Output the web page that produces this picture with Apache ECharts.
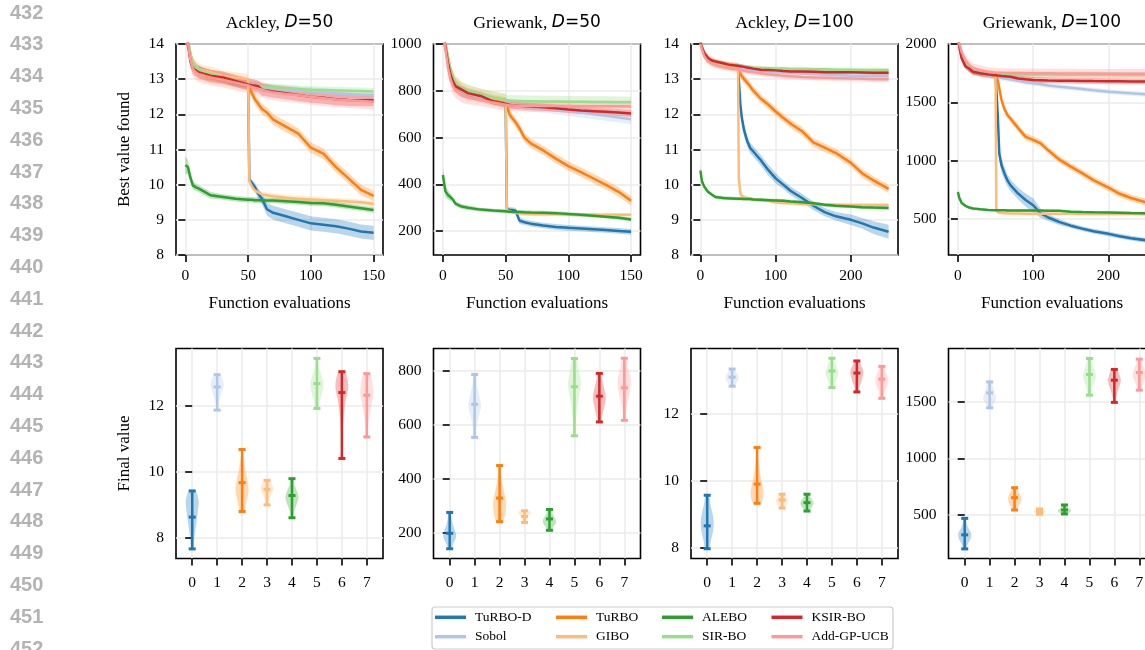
<!DOCTYPE html>
<html><head><meta charset="utf-8">
<script src="https://cdn.jsdelivr.net/npm/echarts@6/dist/echarts.min.js"></script>
<style>html,body{margin:0;padding:0;background:#fff}#c{width:1145px;height:650px}</style>
</head><body><div id="c"></div>
<script>
// ---------------- data ----------------
const METHODS = ['TuRBO-D','Sobol','TuRBO','GIBO','ALEBO','SIR-BO','KSIR-BO','Add-GP-UCB'];
const COLORS = ['#1f77b4','#aec7e8','#ff7f0e','#ffbb78','#2ca02c','#98df8a','#d62728','#ff9896'];
const TITLE_FN = ['Ackley, ','Griewank, ','Ackley, ','Griewank, '];
const TITLE_D = ['=50','=50','=100','=100'];
const LINE_NUMBERS = [432,433,434,435,436,437,438,439,440,441,442,443,444,445,446,447,448,449,450,451,452];

const xTicks50 = [0,50,100,150];
const xTicks100 = [0,100,200];
const yTicksAck = [8,9,10,11,12,13,14];
const yTicksGw50 = [200,400,600,800,1000];
const yTicksGw100 = [500,1000,1500,2000];
const vxTicks = [0,1,2,3,4,5,6,7];
const vyTicksAck = [8,10,12];
const vyTicksGw50 = [200,400,600,800];
const vyTicksGw100 = [500,1000,1500];

const X50 = [0,2,4,6,8,10,15,20,30,40,50,51,53,55,58,61,65,70,80,90,100,110,120,130,140,150];
const X100 = [0,2,5,10,15,20,30,40,50,51,53,55,58,62,66,70,80,90,100,110,120,135,150,165,180,200,215,230,250];

// Ackley D=50
const ack50TurboD = [14.5,14.05,13.65,13.45,13.35,13.3,13.2,13.1,13.0,12.9,12.85,10.15,10.05,9.95,9.75,9.6,9.3,9.2,9.1,9.0,8.9,8.86,8.82,8.75,8.67,8.63];
const ack50TurboDSd = [0.1,0.1,0.1,0.1,0.1,0.1,0.1,0.1,0.1,0.1,0.1,0.08,0.1,0.12,0.14,0.16,0.18,0.2,0.2,0.2,0.2,0.2,0.2,0.2,0.2,0.2];
const ack50Sobol = [14.5,14.1,13.7,13.45,13.35,13.3,13.2,13.15,13.05,12.95,12.85,12.85,12.84,12.82,12.8,12.78,12.75,12.72,12.7,12.67,12.65,12.62,12.6,12.58,12.56,12.55];
const ack50SobolSd = 0.12;
const ack50Turbo = [14.5,14.05,13.6,13.4,13.3,13.2,13.1,13.05,13.0,12.92,12.85,12.75,12.6,12.45,12.3,12.15,12.05,11.85,11.65,11.45,11.05,10.88,10.5,10.18,9.85,9.68];
const ack50TurboSd = 0.15;
const ack50Gibo = [14.5,14.1,13.7,13.5,13.4,13.3,13.25,13.2,13.1,13.05,13.0,10.1,9.95,9.85,9.78,9.72,9.7,9.67,9.63,9.6,9.58,9.56,9.54,9.52,9.5,9.45];
const ack50GiboSd = [0.15,0.15,0.15,0.15,0.15,0.15,0.15,0.15,0.15,0.15,0.15,0.08,0.08,0.08,0.08,0.08,0.08,0.08,0.08,0.08,0.08,0.08,0.08,0.08,0.08,0.08];
const ack50Alebo = [10.55,10.5,10.2,9.98,9.93,9.9,9.8,9.7,9.65,9.6,9.57,9.57,9.57,9.56,9.56,9.56,9.55,9.55,9.53,9.51,9.48,9.47,9.43,9.38,9.33,9.28];
const ack50AleboSd = [0.25,0.2,0.15,0.12,0.1,0.1,0.1,0.09,0.08,0.08,0.08,0.08,0.08,0.08,0.08,0.08,0.08,0.08,0.08,0.08,0.08,0.08,0.08,0.08,0.08,0.08];
const ack50Sir = [14.5,14.1,13.7,13.45,13.35,13.3,13.2,13.15,13.05,12.95,12.85,12.84,12.83,12.82,12.8,12.79,12.78,12.77,12.75,12.72,12.7,12.69,12.68,12.67,12.66,12.65];
const ack50SirSd = 0.1;
const ack50Ksir = [14.5,14.0,13.5,13.3,13.25,13.2,13.15,13.1,13.05,12.95,12.85,12.85,12.83,12.82,12.8,12.7,12.68,12.65,12.6,12.55,12.5,12.47,12.43,12.41,12.4,12.4];
const ack50KsirSd = 0.17;
const ack50Add = [14.5,14.05,13.55,13.3,13.2,13.15,13.1,13.05,12.98,12.9,12.82,12.8,12.78,12.76,12.73,12.7,12.66,12.62,12.58,12.54,12.5,12.46,12.42,12.4,12.38,12.36];
const ack50AddSd = 0.22;

// Griewank D=50
const gw50TurboD = [1050,990,930,880,850,825,800,790,775,760,750,295,292,290,287,245,238,232,224,218,214,211,208,205,201,197];
const gw50TurboDSd = [30,25,20,15,12,12,12,10,10,10,10,10,10,12,12,15,12,12,12,12,12,12,12,12,12,12];
const gw50Sobol = [1050,990,930,880,850,825,800,788,772,758,748,746,744,742,740,738,736,733,728,722,715,708,700,693,686,678];
const gw50SobolSd = 22;
const gw50Turbo = [1050,1000,940,890,855,830,805,792,778,762,752,735,700,685,665,640,600,575,545,510,478,452,425,398,368,330];
const gw50TurboSd = 20;
const gw50Gibo = [1050,1000,940,890,860,835,810,795,780,768,758,290,285,282,278,275,274,273,272,272,271,270,270,270,270,270];
const gw50GiboSd = [30,30,30,30,30,30,30,30,30,30,30,8,8,8,8,8,8,8,8,8,8,8,8,8,8,8];
const gw50Alebo = [440,370,355,345,335,318,305,300,292,288,285,284,283,283,282,282,281,280,279,277,273,270,266,262,257,250];
const gw50AleboSd = [35,25,20,15,12,10,10,10,8,8,8,8,8,8,8,8,8,8,8,8,8,8,8,8,8,8];
const gw50Sir = [1050,1000,940,890,860,835,812,800,785,770,760,758,757,757,756,756,755,755,754,754,753,753,752,752,751,751];
const gw50SirSd = 25;
const gw50Ksir = [1050,990,920,870,840,820,805,790,778,755,745,742,740,738,737,736,735,733,730,725,720,716,713,710,707,703];
const gw50KsirSd = 15;
const gw50Add = [1050,980,900,850,820,800,780,770,760,750,740,738,737,737,736,736,736,735,735,735,735,734,734,734,734,733];
const gw50AddSd = [45,40,40,35,35,30,30,28,25,25,25,25,25,25,25,25,25,25,25,25,25,25,25,25,25,25];

// Ackley D=100
const ack100TurboD = [14.05,13.9,13.72,13.58,13.5,13.45,13.4,13.37,13.35,13.3,12.3,11.9,11.55,11.25,11.05,10.95,10.7,10.42,10.18,10.0,9.82,9.62,9.4,9.22,9.1,9.0,8.9,8.78,8.66];
const ack100TurboDSd = [0.05,0.05,0.05,0.05,0.05,0.05,0.05,0.05,0.05,0.08,0.15,0.18,0.18,0.15,0.15,0.15,0.15,0.15,0.15,0.12,0.12,0.12,0.12,0.12,0.12,0.15,0.15,0.18,0.2];
const ack100Sobol = [14.05,13.9,13.7,13.55,13.48,13.42,13.38,13.34,13.3,13.3,13.29,13.29,13.28,13.27,13.26,13.25,13.23,13.22,13.2,13.19,13.18,13.16,13.15,13.13,13.12,13.1,13.09,13.08,13.08];
const ack100SobolSd = 0.06;
const ack100Turbo = [14.05,13.9,13.72,13.58,13.5,13.45,13.4,13.37,13.35,13.3,13.15,13.1,13.0,12.9,12.8,12.68,12.45,12.28,12.08,11.9,11.73,11.52,11.2,11.05,10.9,10.62,10.32,10.12,9.88];
const ack100TurboSd = 0.12;
const ack100Gibo = [14.05,13.9,13.72,13.58,13.5,13.45,13.4,13.37,13.35,10.2,9.75,9.68,9.64,9.62,9.6,9.58,9.56,9.54,9.5,9.48,9.47,9.45,9.44,9.43,9.43,9.42,9.42,9.42,9.42];
const ack100GiboSd = 0.05;
const ack100Alebo = [10.4,10.1,9.95,9.8,9.72,9.65,9.62,9.61,9.6,9.6,9.6,9.6,9.59,9.59,9.59,9.58,9.57,9.56,9.55,9.54,9.52,9.5,9.47,9.43,9.4,9.38,9.36,9.35,9.34];
const ack100AleboSd = [0.15,0.1,0.06,0.05,0.05,0.05,0.05,0.05,0.05,0.05,0.05,0.05,0.05,0.05,0.05,0.05,0.05,0.05,0.05,0.05,0.05,0.05,0.05,0.05,0.05,0.05,0.05,0.05,0.05];
const ack100Sir = [14.05,13.92,13.75,13.6,13.52,13.48,13.44,13.4,13.38,13.38,13.37,13.37,13.36,13.35,13.34,13.33,13.32,13.31,13.3,13.3,13.29,13.29,13.28,13.28,13.27,13.27,13.26,13.26,13.26];
const ack100SirSd = 0.06;
const ack100Ksir = [14.05,13.9,13.75,13.6,13.53,13.5,13.45,13.4,13.38,13.38,13.37,13.37,13.35,13.33,13.32,13.3,13.27,13.26,13.25,13.23,13.22,13.22,13.21,13.2,13.2,13.2,13.19,13.18,13.18];
const ack100KsirSd = 0.06;
const ack100Add = [14.0,13.85,13.65,13.5,13.45,13.4,13.35,13.3,13.28,13.27,13.26,13.25,13.24,13.22,13.21,13.2,13.17,13.14,13.12,13.1,13.08,13.06,13.05,13.04,13.03,13.02,13.01,13.0,13.0];
const ack100AddSd = 0.08;

// Griewank D=100
const gw100TurboD = [2050,1980,1880,1810,1780,1760,1745,1735,1725,1720,1380,1060,960,890,830,790,720,665,620,550,515,475,445,420,398,375,355,338,320];
const gw100TurboDSd = [30,25,20,15,15,15,15,15,15,15,40,60,60,55,50,50,50,55,60,40,30,25,20,20,20,20,20,20,20];
const gw100Sobol = [2050,1970,1880,1810,1780,1760,1745,1730,1720,1718,1715,1712,1708,1705,1700,1695,1685,1672,1663,1655,1645,1635,1625,1615,1605,1592,1585,1578,1570];
const gw100SobolSd = 20;
const gw100Turbo = [2050,1985,1890,1820,1785,1765,1750,1738,1728,1722,1690,1620,1520,1440,1390,1360,1280,1205,1180,1150,1090,1010,950,895,835,770,718,682,645];
const gw100TurboSd = 30;
const gw100Gibo = [2050,1985,1890,1820,1790,1770,1755,1745,1740,580,560,555,553,552,551,550,549,548,548,547,547,546,546,545,545,545,544,544,543];
const gw100GiboSd = [30,30,30,30,30,30,30,30,30,10,10,10,10,10,10,10,10,10,10,10,10,10,10,10,10,10,10,10,10];
const gw100Alebo = [733,680,640,615,600,592,585,580,577,577,577,576,576,576,575,575,575,575,574,574,573,572,565,562,560,558,556,554,552];
const gw100AleboSd = [25,18,12,10,10,10,10,10,10,10,10,10,10,10,10,10,10,10,10,10,10,10,10,10,10,10,10,10,10];
const gw100Sir = [2050,1990,1910,1840,1800,1775,1758,1748,1742,1742,1741,1741,1741,1740,1740,1740,1739,1739,1738,1738,1738,1737,1737,1736,1736,1736,1735,1735,1735];
const gw100SirSd = 25;
const gw100Ksir = [2050,1975,1880,1810,1790,1762,1750,1740,1733,1732,1730,1728,1726,1724,1722,1720,1705,1698,1692,1690,1688,1686,1685,1684,1683,1682,1681,1680,1680];
const gw100KsirSd = 25;
const gw100Add = [2060,2000,1930,1860,1820,1795,1775,1762,1755,1754,1754,1753,1753,1752,1752,1751,1751,1750,1750,1749,1749,1748,1748,1747,1747,1746,1746,1745,1745];
const gw100AddSd = 40;

// Violin stats: [min, median, max] per method; shape = relative widths from min to max
const vAck50 = [[7.67,8.63,9.42],[11.86,12.56,12.93],[8.8,9.67,10.67],[9.0,9.47,9.74],[8.61,9.28,9.79],[11.91,12.66,13.42],[10.4,12.39,13.02],[11.05,12.31,12.96]];
const vAck50Shape = [[0.15,0.3,0.5,0.7,0.9,1.0,0.5],[0.1,0.2,0.4,0.7,1.0,0.9,0.4],[0.3,0.7,1.0,0.85,0.5,0.25,0.1],[0.2,0.3,0.5,0.8,1.0,0.8,0.4],[0.15,0.35,0.7,1.0,0.8,0.4,0.2],[0.2,0.5,0.85,1.0,0.7,0.3,0.1],[0.05,0.1,0.15,0.3,0.6,1.0,0.5],[0.1,0.2,0.4,0.7,1.0,0.9,0.5]];
const vGw50 = [[142,199,276],[553,675,785],[242,329,449],[239,261,282],[210,252,287],[559,740,844],[610,705,789],[616,736,845]];
const vGw50Shape = [[0.2,0.6,1.0,0.8,0.5,0.3,0.15],[0.1,0.3,0.6,1.0,0.7,0.35,0.2],[0.5,0.9,1.0,0.75,0.45,0.2,0.1],[0.25,0.3,0.35,0.5,0.8,1.0,0.7],[0.3,0.6,0.95,1.0,0.7,0.4,0.2],[0.1,0.2,0.4,0.7,1.0,0.7,0.3],[0.2,0.5,0.8,1.0,0.8,0.5,0.2],[0.1,0.3,0.6,0.95,1.0,0.6,0.3]];
const vAck100 = [[7.98,8.66,9.57],[12.81,13.08,13.32],[9.33,9.9,10.99],[9.19,9.43,9.6],[9.1,9.35,9.6],[12.77,13.26,13.64],[12.64,13.2,13.56],[12.45,13.02,13.4]];
const vAck100Shape = [[0.3,0.6,0.9,1.0,0.8,0.5,0.25],[0.3,0.6,0.9,1.0,0.9,0.6,0.3],[0.6,1.0,0.8,0.5,0.3,0.15,0.1],[0.25,0.5,0.8,1.0,0.8,0.5,0.3],[0.3,0.6,0.9,1.0,0.8,0.5,0.25],[0.2,0.5,0.8,1.0,0.8,0.5,0.2],[0.2,0.4,0.7,0.9,1.0,0.7,0.3],[0.2,0.4,0.7,1.0,0.9,0.6,0.3]];
const vGw100 = [[200,324,470],[1447,1579,1676],[544,653,741],[506,530,553],[509,544,588],[1559,1742,1883],[1495,1691,1786],[1603,1759,1877]];
const vGw100Shape = [[0.2,0.5,0.9,1.0,0.6,0.3,0.2],[0.2,0.6,1.0,0.9,0.7,0.5,0.3],[0.3,0.6,0.9,1.0,0.9,0.6,0.3],[0.3,0.5,0.8,1.0,0.8,0.5,0.3],[0.4,0.8,1.0,0.9,0.6,0.4,0.2],[0.2,0.4,0.7,1.0,0.8,0.5,0.2],[0.1,0.3,0.5,0.8,1.0,0.8,0.4],[0.2,0.5,0.8,1.0,0.8,0.5,0.2]];

// ---------------- assembly ----------------
const panelX = [X50, X50, X100, X100];
const panelMeans = [
  [ack50TurboD, ack50Sobol, ack50Turbo, ack50Gibo, ack50Alebo, ack50Sir, ack50Ksir, ack50Add],
  [gw50TurboD, gw50Sobol, gw50Turbo, gw50Gibo, gw50Alebo, gw50Sir, gw50Ksir, gw50Add],
  [ack100TurboD, ack100Sobol, ack100Turbo, ack100Gibo, ack100Alebo, ack100Sir, ack100Ksir, ack100Add],
  [gw100TurboD, gw100Sobol, gw100Turbo, gw100Gibo, gw100Alebo, gw100Sir, gw100Ksir, gw100Add]
];
const panelSds = [
  [ack50TurboDSd, ack50SobolSd, ack50TurboSd, ack50GiboSd, ack50AleboSd, ack50SirSd, ack50KsirSd, ack50AddSd],
  [gw50TurboDSd, gw50SobolSd, gw50TurboSd, gw50GiboSd, gw50AleboSd, gw50SirSd, gw50KsirSd, gw50AddSd],
  [ack100TurboDSd, ack100SobolSd, ack100TurboSd, ack100GiboSd, ack100AleboSd, ack100SirSd, ack100KsirSd, ack100AddSd],
  [gw100TurboDSd, gw100SobolSd, gw100TurboSd, gw100GiboSd, gw100AleboSd, gw100SirSd, gw100KsirSd, gw100AddSd]
];
const violinStats = [vAck50, vGw50, vAck100, vGw100];
const violinShapes = [vAck50Shape, vGw50Shape, vAck100Shape, vGw100Shape];

const topXRange = [[-7.5,157.5],[-7.5,157.5],[-12.5,262.5],[-12.5,262.5]];
const topXTicks = [xTicks50, xTicks50, xTicks100, xTicks100];
const topYRange = [[8,14],[98,1000],[8,14],[194,2000]];
const topYTicks = [yTicksAck, yTicksGw50, yTicksAck, yTicksGw100];
const botYRange = [[7.38,13.72],[106,881],[7.69,13.93],[115,1971]];
const botYTicks = [vyTicksAck, vyTicksGw50, vyTicksAck, vyTicksGw100];

const SERIF = "'Liberation Serif','Times New Roman',serif";
const GL = [176, 433.5, 691, 948.5];
const GWID = 207;

function rgba(hex, a) {
  const n = parseInt(hex.slice(1), 16);
  return 'rgba(' + ((n >> 16) & 255) + ',' + ((n >> 8) & 255) + ',' + (n & 255) + ',' + a + ')';
}

const grids = [], xAxes = [], yAxes = [], series = [];
function mkAxis(gi, range, ticks, name, nameGap, margin) {
  return {
    type: 'value', gridIndex: gi, min: range[0], max: range[1],
    axisLine: { show: false },
    axisTick: { show: true, length: 7, customValues: ticks, lineStyle: { color: '#000', width: 1.6 } },
    axisLabel: { customValues: ticks, color: '#000', fontFamily: SERIF, fontSize: 15.5, margin: margin,
      formatter: v => String(v) },
    splitLine: { show: true, lineStyle: { color: '#ebebeb', width: 1.5 } },
    name: name, nameLocation: 'middle', nameGap: nameGap,
    nameTextStyle: { color: '#000', fontFamily: SERIF, fontSize: 17 }
  };
}
for (let p = 0; p < 4; p++) {
  grids.push({ left: GL[p], top: 44, width: GWID, height: 211, show: true, borderColor: '#000', borderWidth: 1.6, containLabel: false, outerBoundsMode: 'none' });
}
for (let p = 0; p < 4; p++) {
  grids.push({ left: GL[p], top: 348.5, width: GWID, height: 210, show: true, borderColor: '#000', borderWidth: 1.6, containLabel: false, outerBoundsMode: 'none' });
}
for (let p = 0; p < 4; p++) {
  xAxes.push(mkAxis(p, topXRange[p], topXTicks[p], 'Function evaluations', 40, 13));
  yAxes.push(mkAxis(p, topYRange[p], topYTicks[p], p === 0 ? 'Best value found' : '', 43, 12));
}
for (let p = 0; p < 4; p++) {
  xAxes.push(mkAxis(4 + p, [-0.65, 7.65], vxTicks, '', 30, 16));
  yAxes.push(mkAxis(4 + p, botYRange[p], botYTicks[p], p === 0 ? 'Final value' : '', 43, 12));
}

function bandSeries(p, xs, ys, sd, color) {
  return {
    type: 'custom', xAxisIndex: p, yAxisIndex: p, silent: true, animation: false,
    data: [[xs[0], ys[0]]],
    renderItem: function (params, api) {
      const cs = params.coordSys;
      const cl = pt => [Math.min(Math.max(pt[0], cs.x), cs.x + cs.width), Math.min(Math.max(pt[1], cs.y), cs.y + cs.height)];
      const up = [], lo = [];
      for (let i = 0; i < xs.length; i++) {
        const s = Array.isArray(sd) ? sd[i] : sd;
        up.push(cl(api.coord([xs[i], ys[i] + s])));
        lo.push(cl(api.coord([xs[i], ys[i] - s])));
      }
      return { type: 'polygon', shape: { points: up.concat(lo.reverse()) }, style: { fill: rgba(color, 0.3) } };
    }
  };
}

for (let p = 0; p < 4; p++) {
  const xs = panelX[p];
  for (let m = 0; m < 8; m++) {
    const ys = panelMeans[p][m];
    series.push(bandSeries(p, xs, ys, panelSds[p][m], COLORS[m]));
    series.push({
      type: 'line', name: METHODS[m], xAxisIndex: p, yAxisIndex: p, silent: true, animation: false,
      data: xs.map((x, i) => [x, ys[i]]), showSymbol: false, symbol: 'none', clip: true,
      lineStyle: { width: 2.5, color: COLORS[m] }, itemStyle: { color: COLORS[m] }
    });
  }
}

function violinSeries(p) {
  const stats = violinStats[p], shapes = violinShapes[p];
  return {
    type: 'custom', xAxisIndex: 4 + p, yAxisIndex: 4 + p, silent: true, animation: false,
    data: stats.map((s, i) => [vxTicks[i], s[0], s[1], s[2]]),
    encode: { x: 0, y: [1, 2, 3] },
    renderItem: function (params, api) {
      const i = params.dataIndex;
      const pos = api.value(0), lo = api.value(1), md = api.value(2), hi = api.value(3);
      const prof = shapes[i], n = prof.length;
      const L = [], R = [];
      for (let k = 0; k < n; k++) {
        const v = lo + (hi - lo) * k / (n - 1);
        const w = prof[k] * 0.26;
        L.push(api.coord([pos - w, v]));
        R.push(api.coord([pos + w, v]));
      }
      const c = COLORS[i];
      const b = api.coord([pos, lo]), t = api.coord([pos, hi]), m = api.coord([pos, md]);
      const cap = y => ({ type: 'line', shape: { x1: b[0] - 3.5, y1: y, x2: b[0] + 3.5, y2: y }, style: { stroke: c, lineWidth: 3 } });
      return {
        type: 'group', children: [
          { type: 'polygon', shape: { points: L.concat(R.reverse()), smooth: 0.3 }, style: { fill: rgba(c, 0.3) } },
          { type: 'line', shape: { x1: b[0], y1: b[1], x2: t[0], y2: t[1] }, style: { stroke: c, lineWidth: 2.5 } },
          cap(b[1]), cap(t[1]), cap(m[1])
        ]
      };
    }
  };
}
for (let p = 0; p < 4; p++) series.push(violinSeries(p));

const graphics = [];
LINE_NUMBERS.forEach((n, i) => {
  graphics.push({ type: 'text', x: 10, y: 13 + 31.8 * i, silent: true,
    style: { text: String(n), fill: '#b3b3b3', font: 'bold 20px "Liberation Sans", Arial, sans-serif', align: 'left', verticalAlign: 'middle' } });
});
for (let p = 0; p < 4; p++) {
  graphics.push({ type: 'text', x: GL[p] + GWID / 2, y: 23, silent: true,
    style: {
      text: '{s|' + TITLE_FN[p] + '}{i|D}{m|' + TITLE_D[p] + '}', align: 'center', verticalAlign: 'middle',
      rich: {
        s: { fontFamily: SERIF, fontSize: 17.7, fill: '#000' },
        i: { fontFamily: "'DejaVu Sans'", fontStyle: 'italic', fontSize: 17, fill: '#000' },
        m: { fontFamily: "'DejaVu Sans'", fontSize: 17, fill: '#000' }
      }
    } });
}
graphics.push({ type: 'rect', shape: { x: 432, y: 607, width: 461, height: 42, r: 3 }, silent: true, z: -1,
  style: { fill: '#fff', stroke: '#cccccc', lineWidth: 1.2 } });

const legendCols = [[0, 1], [2, 3], [4, 5], [6, 7]];
const legendLeft = [435, 556, 662, 771.5];
const legends = legendCols.map((col, j) => ({
  orient: 'vertical', left: legendLeft[j], top: 610.3, padding: 0, itemWidth: 31, itemHeight: 3.5, itemGap: 5.4,
  selectedMode: false, icon: 'rect', z: 10,
  textStyle: { fontFamily: SERIF, fontSize: 13.5, color: '#000', lineHeight: 14, padding: [0, 0, 0, 4] },
  data: col.map(k => ({ name: METHODS[k], icon: 'rect', itemStyle: { color: COLORS[k] } }))
}));

const chart = echarts.init(document.getElementById('c'), null, { renderer: 'canvas' });
chart.setOption({
  backgroundColor: '#fff', animation: false,
  grid: grids, xAxis: xAxes, yAxis: yAxes, series: series, legend: legends, graphic: graphics
});
</script></body></html>
